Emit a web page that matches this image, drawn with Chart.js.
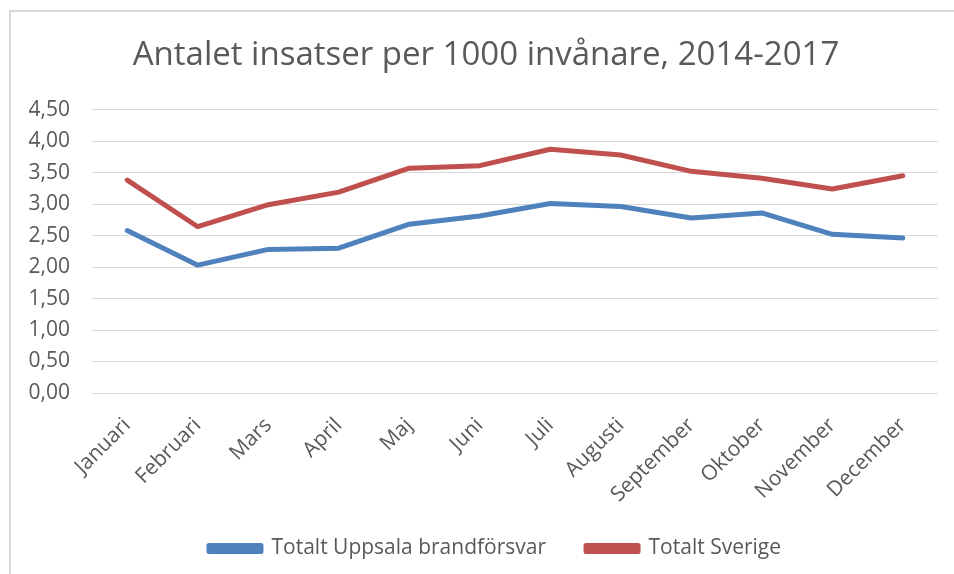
<!DOCTYPE html>
<html>
<head>
<meta charset="utf-8">
<script src="https://cdn.jsdelivr.net/npm/chart.js@4.4.0/dist/chart.umd.min.js"></script>
<style>
  html, body { margin:0; padding:0; background:#fff; }
  #wrap { position:relative; width:954px; height:574px; }
  #frame { position:absolute; left:9px; top:10px; right:-5px; bottom:-5px; border-left:2px solid #d9d9d9; border-top:2px solid #d9d9d9; }
  canvas { position:absolute; left:0; top:0; }
</style>
</head>
<body>
<div id="wrap">
  <div id="frame"></div>
  <canvas id="chart" width="954" height="574"></canvas>
</div>
<script>
  // Data
  const months = ['Januari','Februari','Mars','April','Maj','Juni','Juli','Augusti','September','Oktober','November','December'];
  const uppsala = [2.58, 2.03, 2.28, 2.30, 2.68, 2.81, 3.01, 2.96, 2.78, 2.86, 2.52, 2.46];
  const sverige = [3.38, 2.64, 2.99, 3.19, 3.57, 3.61, 3.87, 3.78, 3.52, 3.41, 3.24, 3.45];
  const yTicks  = [0, 0.5, 1, 1.5, 2, 2.5, 3, 3.5, 4, 4.5];

  const FONT = "'Open Sans', sans-serif";
  const TXT  = '#595959';
  const GRID = '#d9d9d9';

  // flyttar titel och legend lite, som i Excel
  const shiftBoxes = {
    id: 'shiftBoxes',
    afterLayout(chart){
      const lg = chart.legend, tt = chart.titleBlock;
      if (lg){ lg.left += 21; lg.right += 21; lg.top -= 5; lg.bottom -= 5; }
      if (tt){ tt.left += 12; tt.right += 12; }
    }
  };

  const mk = (label, data, color)=>({
    label, data,
    borderColor: color, backgroundColor: color,
    borderWidth: 5, pointRadius: 0, tension: 0,
    borderCapStyle: 'round', borderJoinStyle: 'round'
  });

  new Chart(document.getElementById('chart').getContext('2d'), {
    type: 'line',
    data: {
      labels: months,
      datasets: [
        mk('Totalt Uppsala brandförsvar', uppsala, '#4f81bd'),
        mk('Totalt Sverige', sverige, '#c0504d')
      ]
    },
    options: {
      responsive: false,
      animation: false,
      layout: { padding: { left: 10, right: 16, top: 0, bottom: 0 } },
      plugins: {
        title: {
          display: true,
          text: 'Antalet insatser per 1000 invånare, 2014-2017',
          color: TXT,
          font: { family: FONT, size: 33, weight: 'normal' },
          padding: { top: 36, bottom: 34 }
        },
        legend: {
          position: 'bottom',
          labels: {
            color: TXT,
            font: { family: FONT, size: 21 },
            boxWidth: 52, boxHeight: 6,
            padding: 40
          }
        },
        tooltip: { enabled: false }
      },
      scales: {
        x: {
          offset: true,
          grid: { display: false },
          border: { display: false },
          ticks: {
            color: TXT, font: { family: FONT, size: 21 },
            minRotation: 45, maxRotation: 45, autoSkip: false, padding: 12
          },
          afterFit: s => { s.height = 110; }
        },
        y: {
          min: 0, max: 4.5,
          afterBuildTicks: s => { s.ticks = yTicks.map(v=>({value:v})); },
          grid: { color: GRID, lineWidth: 1, drawTicks: false },
          border: { display: false },
          ticks: {
            color: TXT, font: { family: FONT, size: 21 }, padding: 22,
            callback: v => v.toFixed(2).replace('.', ',')
          },
          afterFit: s => { s.width = 82; }
        }
      }
    },
    plugins: [shiftBoxes]
  });
</script>
</body>
</html>
